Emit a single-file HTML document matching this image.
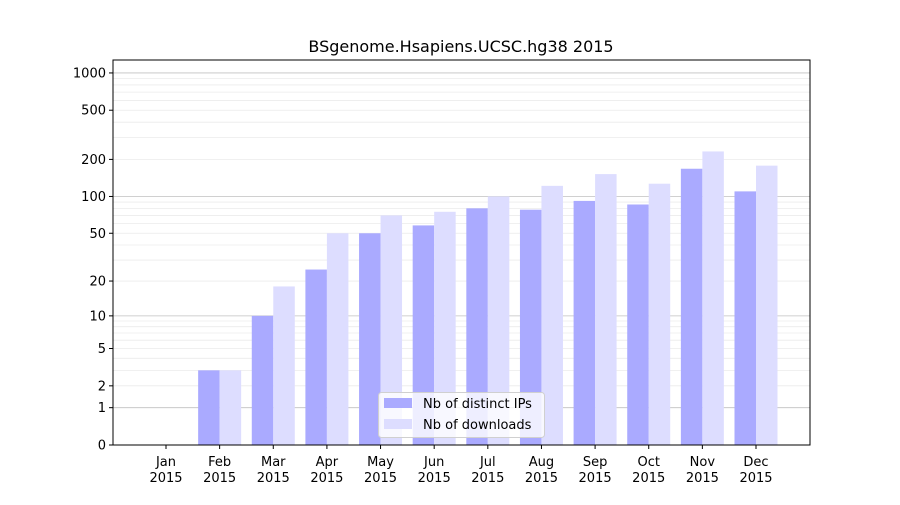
<!DOCTYPE html>
<html><head><meta charset="utf-8"><style>
body{margin:0;background:#fff}
svg text{font-family:"DejaVu Sans","Liberation Sans",sans-serif;font-size:13px;fill:#000}
</style></head><body>
<svg id="s" width="900" height="500" xmlns="http://www.w3.org/2000/svg"></svg>
<script>
const s=document.getElementById('s');
const L=113,R=810,T=60,B=445,K=124;
const y=v=>B-K*Math.log10(1+v);
let h='<rect width="900" height="500" fill="#fff"/>';
// minor grid
for(const d of [1,10,100]){for(let m=2;m<=9;m++){const v=m*d;h+=`<line x1="${L}" x2="${R}" y1="${y(v)}" y2="${y(v)}" stroke="#ebebeb" stroke-width="0.8"/>`;}}
for(const v of [1,10,100,1000])h+=`<line x1="${L}" x2="${R}" y1="${y(v)}" y2="${y(v)}" stroke="#c0c0c0" stroke-width="0.8"/>`;
const months=['Jan','Feb','Mar','Apr','May','Jun','Jul','Aug','Sep','Oct','Nov','Dec'];
const ips=[0,3,10,25,50,58,80,78,92,86,168,110];
const dl=[0,3,18,50,70,75,100,122,152,127,232,178];
const sp=(756-166)/11;
months.forEach((m,i)=>{const c=166+i*sp;
 if(ips[i]>0)h+=`<rect x="${c-21.5}" y="${y(ips[i])}" width="21.5" height="${B-y(ips[i])}" fill="#aaaaff"/>`;
 if(dl[i]>0)h+=`<rect x="${c}" y="${y(dl[i])}" width="21.5" height="${B-y(dl[i])}" fill="#ddddff"/>`;
 h+=`<line x1="${c}" x2="${c}" y1="${B}" y2="${B+4}" stroke="#000"/>`;
 h+=`<text x="${c}" y="466" text-anchor="middle">${m}</text><text x="${c}" y="482" text-anchor="middle">2015</text>`;
});
for(const v of [0,1,2,5,10,20,50,100,200,500,1000]){const yy=y(v);
 h+=`<line x1="${L-4}" x2="${L}" y1="${yy}" y2="${yy}" stroke="#000"/>`;
 h+=`<text x="${L-7}" y="${yy+4.5}" text-anchor="end">${v}</text>`;}
h+=`<rect x="${L}" y="${T}" width="${R-L}" height="${B-T}" fill="none" stroke="#000" stroke-width="1"/>`;
h+=`<text x="461" y="52" text-anchor="middle" style="font-size:16px">BSgenome.Hsapiens.UCSC.hg38 2015</text>`;
h+=`<rect x="378.5" y="392.5" width="166" height="45" rx="3" fill="#fff" fill-opacity="0.8" stroke="#d0d0d0"/>`;
h+=`<rect x="384" y="398" width="28" height="10" fill="#aaaaff"/><text x="423" y="408">Nb of distinct IPs</text>`;
h+=`<rect x="384" y="419" width="28" height="10" fill="#ddddff"/><text x="423" y="429">Nb of downloads</text>`;
s.innerHTML=h;
</script>
</body></html>
